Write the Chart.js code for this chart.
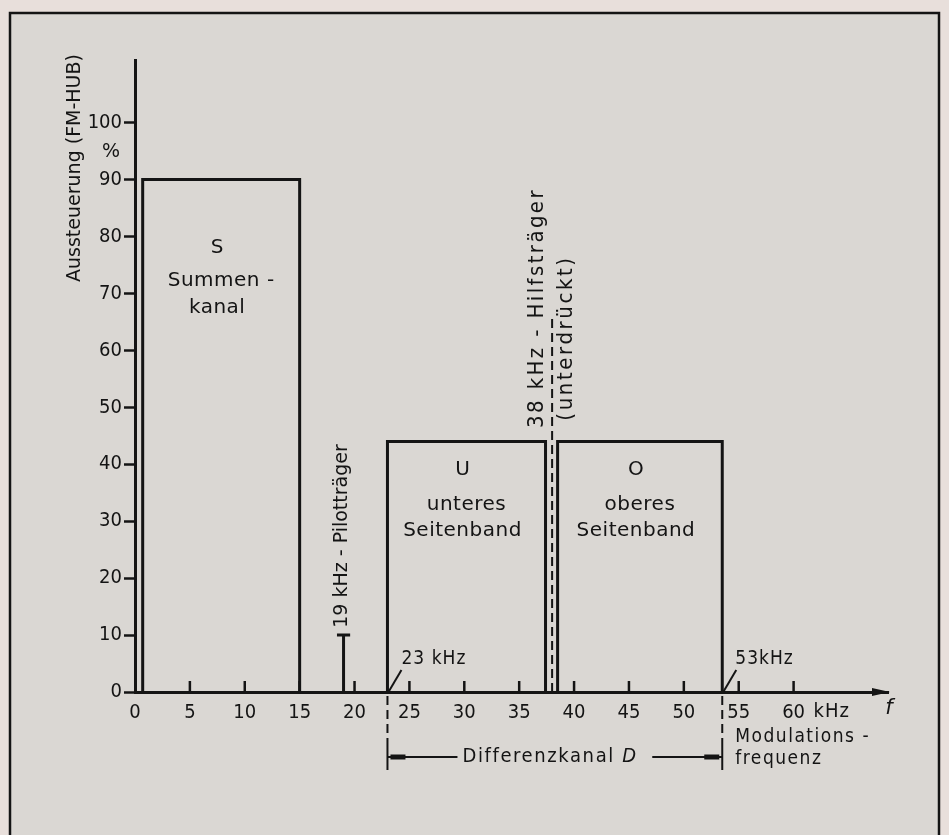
<!DOCTYPE html>
<html>
<head>
<meta charset="utf-8">
<title>Stereo-Multiplexsignal</title>
<script src="https://cdn.jsdelivr.net/npm/chart.js"></script>
<style>
  body { margin: 0; background: #e8dfdb; }
  #wrap { width: 949px; height: 835px; }
</style>
</head>
<body>
<div id="wrap"><canvas id="chart" width="949" height="835"></canvas></div>
<script>
// Frequenz in kHz, Aussteuerung in %
var xTicks = [0, 5, 10, 15, 20, 25, 30, 35, 40, 45, 50, 55, 60];
var xTickLabels = ['0', '5', '10', '15', '20', '25', '30', '35', '40', '45', '50', '55', '60'];
var yTicks = [0, 10, 20, 30, 40, 50, 60, 70, 80, 90, 100];
var yTickLabels = ['0', '10', '20', '30', '40', '50', '60', '70', '80', '90', '100'];

// Kanäle: S (Summe), U (unteres Seitenband), O (oberes Seitenband)
var bandNames = ['S', 'U', 'O'];
var bandStart = [0.7, 23, 38.5];
var bandEnd = [15, 37.4, 53.5];
var bandLevel = [90, 44, 44];
var bandText = [['Summen -', 'kanal'], ['unteres', 'Seitenband'], ['oberes', 'Seitenband']];

var pilotFreq = 19, pilotLevel = 10;
var carrierFreq = 38, carrierLevel = 66;
var diffStart = 23, diffEnd = 53.5;

var INK = '#141414';
var FONT = 'DejaVu Sans';
var FONT_C = 'DejaVu Sans Condensed';

var datasets = bandNames.map(function (n, i) {
  return {
    label: n,
    data: [
      {x: bandStart[i], y: 0}, {x: bandStart[i], y: bandLevel[i]},
      {x: bandEnd[i], y: bandLevel[i]}, {x: bandEnd[i], y: 0}
    ],
    showLine: true, borderColor: INK, borderWidth: 3, pointRadius: 0, clip: false
  };
});
datasets.push({
  label: 'Pilot',
  data: [{x: pilotFreq, y: 0}, {x: pilotFreq, y: pilotLevel},
         {x: pilotFreq - 0.6, y: pilotLevel}, {x: pilotFreq + 0.6, y: pilotLevel}],
  showLine: true, borderColor: INK, borderWidth: 3, pointRadius: 0, clip: false
});
datasets.push({
  label: 'Hilfsträger',
  data: [{x: carrierFreq, y: 0}, {x: carrierFreq, y: carrierLevel}],
  showLine: true, borderColor: INK, borderWidth: 2, borderDash: [9, 5], pointRadius: 0, clip: false
});

function txt(ctx, s, x, y, font, align, spacing, rot) {
  ctx.save();
  ctx.font = font;
  ctx.fillStyle = INK;
  ctx.textAlign = align || 'center';
  ctx.textBaseline = 'middle';
  ctx.letterSpacing = (spacing || 0) + 'px';
  ctx.translate(x, y);
  if (rot) ctx.rotate(rot);
  ctx.fillText(s, 0, 0);
  ctx.restore();
}

function line(ctx, x1, y1, x2, y2, w, dash) {
  ctx.save();
  ctx.strokeStyle = INK;
  ctx.lineWidth = w;
  ctx.setLineDash(dash || []);
  ctx.beginPath();
  ctx.moveTo(x1, y1);
  ctx.lineTo(x2, y2);
  ctx.stroke();
  ctx.restore();
}

var extras = {
  id: 'extras',
  beforeDraw: function (chart) {
    var ctx = chart.ctx;
    ctx.save();
    ctx.fillStyle = '#dad7d3';
    ctx.fillRect(10, 13, 929, 840);
    ctx.strokeStyle = INK;
    ctx.lineWidth = 2.5;
    ctx.strokeRect(10, 13, 929, 840);
    ctx.restore();
  },
  afterDraw: function (chart) {
    var ctx = chart.ctx, xs = chart.scales.x, ys = chart.scales.y;
    var y0 = ys.getPixelForValue(0);
    var R = -Math.PI / 2;

    // kurze Teilstriche nach innen
    xTicks.forEach(function (v) {
      if (v === 0) return;
      var px = xs.getPixelForValue(v);
      line(ctx, px, y0, px, y0 - 11, 2.5);
    });

    // Pfeil der f-Achse
    var xe = chart.chartArea.right;
    ctx.save();
    ctx.fillStyle = INK;
    ctx.beginPath();
    ctx.moveTo(xe + 2, y0);
    ctx.lineTo(xe - 16, y0 - 4);
    ctx.lineTo(xe - 16, y0 + 4);
    ctx.closePath();
    ctx.fill();
    ctx.restore();

    txt(ctx, 'f', xe + 1, y0 + 17, 'italic 21px ' + FONT, 'center');
    txt(ctx, 'kHz', xs.getPixelForValue(60) + 20, y0 + 20, '20px ' + FONT_C, 'left', 1);

    // Achsentitel
    txt(ctx, 'Aussteuerung (FM-HUB)', 75, 168, '19px ' + FONT, 'center', 0, R);
    txt(ctx, '%', 111, 152, '19px ' + FONT, 'center');

    // Beschriftung der Kanäle
    var rowsY = [[78, 72.3, 67.5], [39, 32.8, 28.4], [39, 32.8, 28.4]];
    bandNames.forEach(function (n, i) {
      var cx = xs.getPixelForValue((bandStart[i] + bandEnd[i]) / 2);
      txt(ctx, n, cx - 4, ys.getPixelForValue(rowsY[i][0]), '20px ' + FONT, 'center');
      txt(ctx, bandText[i][0], cx, ys.getPixelForValue(rowsY[i][1]), '20px ' + FONT, 'center', 0.5);
      txt(ctx, bandText[i][1], cx - 4, ys.getPixelForValue(rowsY[i][2]), '20px ' + FONT, 'center', 0.5);
    });

    // Pilotträger und Hilfsträger
    txt(ctx, '19 kHz - Pilotträger', xs.getPixelForValue(pilotFreq) - 1, 536, '19px ' + FONT, 'center', 0, R);
    var xc = xs.getPixelForValue(carrierFreq);
    txt(ctx, '38 kHz - Hilfsträger', xc - 15, 308, '22px ' + FONT_C, 'center', 2.4, R);
    txt(ctx, '(unterdrückt)', xc + 14, 338, '22px ' + FONT_C, 'center', 2.6, R);

    // 23 kHz und 53 kHz
    var xa = xs.getPixelForValue(diffStart), xb = xs.getPixelForValue(diffEnd);
    line(ctx, xa + 1, y0, xa + 14, y0 - 22, 2);
    txt(ctx, '23 kHz', xa + 14, y0 - 33, '19px ' + FONT_C, 'left', 1);
    line(ctx, xb + 1, y0, xb + 14, y0 - 22, 2);
    txt(ctx, '53kHz', xb + 13, y0 - 33, '19px ' + FONT_C, 'left', 1);

    // Differenzkanal D
    var yd = 757;
    line(ctx, xa, y0 + 4, xa, yd - 10, 2, [9, 5]);
    line(ctx, xa, yd - 10, xa, yd + 13, 2);
    line(ctx, xb, y0 + 4, xb, yd - 10, 2, [9, 5]);
    line(ctx, xb, yd - 10, xb, yd + 13, 2);
    line(ctx, xa, yd, xa + 70, yd, 2);
    line(ctx, xa + 3, yd, xa + 18, yd, 5);
    line(ctx, xb - 70, yd, xb, yd, 2);
    line(ctx, xb - 18, yd, xb - 3, yd, 5);
    var dFont = '20px ' + FONT_C;
    txt(ctx, 'Differenzkanal ', xa + 75, yd, dFont, 'left', 1.6);
    ctx.save();
    ctx.font = dFont;
    ctx.letterSpacing = '1.6px';
    var w = ctx.measureText('Differenzkanal ').width;
    ctx.restore();
    txt(ctx, 'D', xa + 75 + w, yd, 'italic ' + dFont, 'left');

    txt(ctx, 'Modulations -', xb + 13, 737, '19px ' + FONT_C, 'left', 1.5);
    txt(ctx, 'frequenz', xb + 13, 759, '19px ' + FONT_C, 'left', 1.5);
  }
};

var chart = new Chart(document.getElementById('chart'), {
  type: 'scatter',
  data: { datasets: datasets },
  options: {
    responsive: false,
    animation: false,
    layout: { padding: { top: 60, right: 61, left: 0, bottom: 0 } },
    plugins: { legend: { display: false }, tooltip: { enabled: false } },
    scales: {
      x: {
        type: 'linear', min: 0, max: 68.6,
        afterBuildTicks: function (s) { s.ticks = xTicks.map(function (v) { return {value: v}; }); },
        afterFit: function (s) { s.height = 835 - 692; },
        ticks: {
          autoSkip: false, maxRotation: 0, padding: 9, color: INK,
          font: { family: FONT_C, size: 20 },
          callback: function (v, i) { return xTickLabels[i]; }
        },
        grid: { display: false, drawTicks: false },
        border: { display: true, color: INK, width: 3 }
      },
      y: {
        type: 'linear', min: 0, max: 111,
        afterBuildTicks: function (s) { s.ticks = yTicks.map(function (v) { return {value: v}; }); },
        afterFit: function (s) { s.width = 135; },
        ticks: {
          padding: 2, color: INK,
          font: { family: FONT_C, size: 20 },
          callback: function (v, i) { return yTickLabels[i]; }
        },
        grid: { drawOnChartArea: false, tickLength: 11, tickWidth: 2.5, tickColor: INK },
        border: { display: true, color: INK, width: 3 }
      }
    }
  },
  plugins: [extras]
});
</script>
</body>
</html>
